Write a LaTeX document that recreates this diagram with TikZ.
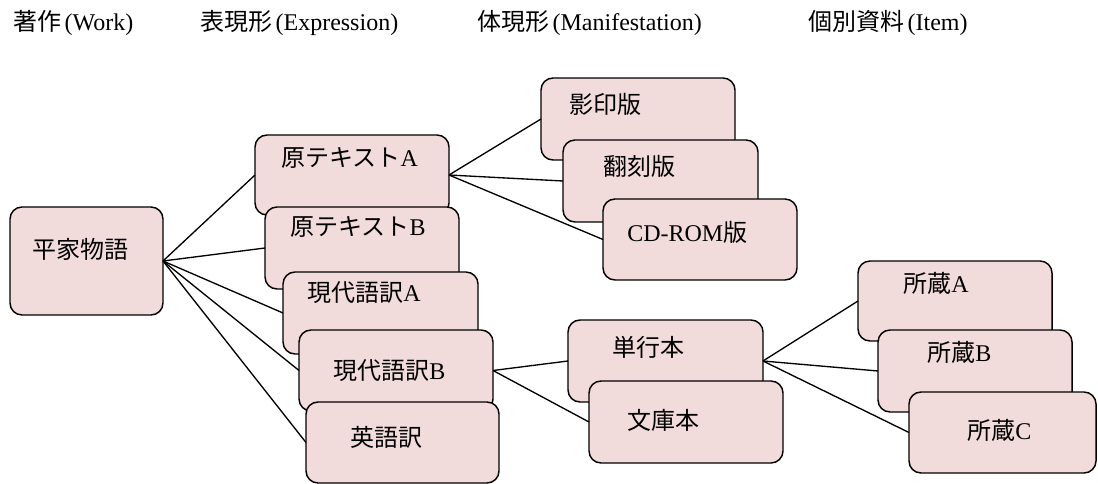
\documentclass[tikz,border=0pt]{standalone}
\usepackage{fontspec}
\setmainfont{Liberation Serif}
\newfontfamily\jp{Noto Sans CJK JP}
\definecolor{boxpink}{HTML}{F2DCDB}
\tikzset{
  box/.style={draw=black, line width=1.1pt, fill=boxpink, rounded corners=9pt,
    anchor=north west, inner sep=0pt, outer sep=0pt},
  lbl/.style={anchor=base west, inner sep=0pt, font=\fontsize{18}{21}\selectfont},
  conn/.style={draw=black, line width=1pt},
}
\newcommand\mkbox[8]{%
  \node[box, minimum width={(#4-#2)*0.75pt}, minimum height={(#5-#3)*0.75pt}] (#1) at (#2,#3) {};
  \node[lbl] (#1-t) at (#6,#7+9) {#8};}
\newcommand\po{\hspace{2.5pt}(}
\begin{document}
\begin{tikzpicture}[x=0.75pt,y=-0.75pt]
\useasboundingbox (0,0) rectangle (1098,484);
% headers
\node[lbl] (h1) at (13,22+9) {{\jp 著作}\po Work)};
\node[lbl] (h2) at (200,22+9) {{\jp 表現形}\po Expression)};
\node[lbl] (h3) at (477,22+9) {{\jp 体現形}\po Manifestation)};
\node[lbl] (h4) at (808,22+9) {{\jp 個別資料}\po Item)};
% boxes
\mkbox{heike}{10}{207}{163}{315}{32}{250}{\jp 平家物語}
\mkbox{genA}{255}{135}{449}{215}{281}{158}{{\jp 原テキスト}A}
\mkbox{genB}{265}{207}{459}{289}{290}{227}{{\jp 原テキスト}B}
\mkbox{gdA}{283}{272}{478}{354}{307}{292}{{\jp 現代語訳}A}
\mkbox{gdB}{299}{330}{493}{411}{333}{370}{{\jp 現代語訳}B}
\mkbox{eigo}{306}{402}{499}{483}{350}{437}{\jp 英語訳}
\mkbox{eiin}{541}{78}{735}{160}{569}{105}{\jp 影印版}
\mkbox{honkoku}{563}{140}{758}{222}{603}{167}{\jp 翻刻版}
\mkbox{cdrom}{603}{199}{797}{280}{627}{233}{CD-ROM{\jp 版}}
\mkbox{tanko}{568}{320}{763}{402}{612}{347}{\jp 単行本}
\mkbox{bunko}{589}{381}{783}{463}{627}{420}{\jp 文庫本}
\mkbox{shA}{858}{261}{1052}{341}{903}{283}{{\jp 所蔵}A}
\mkbox{shB}{878}{330}{1072}{412}{927}{352}{{\jp 所蔵}B}
\mkbox{shC}{909}{392}{1096}{473}{967}{430}{{\jp 所蔵}C}
% connectors
\draw[conn] (heike.east) -- (genA.west);
\draw[conn] (heike.east) -- (genB.west);
\draw[conn] (heike.east) -- (gdA.west);
\draw[conn] (heike.east) -- (gdB.west);
\draw[conn] (heike.east) -- (eigo.west);
\draw[conn] (genA.east) -- (eiin.west);
\draw[conn] (genA.east) -- (honkoku.west);
\draw[conn] (genA.east) -- (cdrom.west);
\draw[conn] (gdB.east) -- (tanko.west);
\draw[conn] (gdB.east) -- (bunko.west);
\draw[conn] (tanko.east) -- (shA.west);
\draw[conn] (tanko.east) -- (shB.west);
\draw[conn] (tanko.east) -- (shC.west);
\end{tikzpicture}
\end{document}
